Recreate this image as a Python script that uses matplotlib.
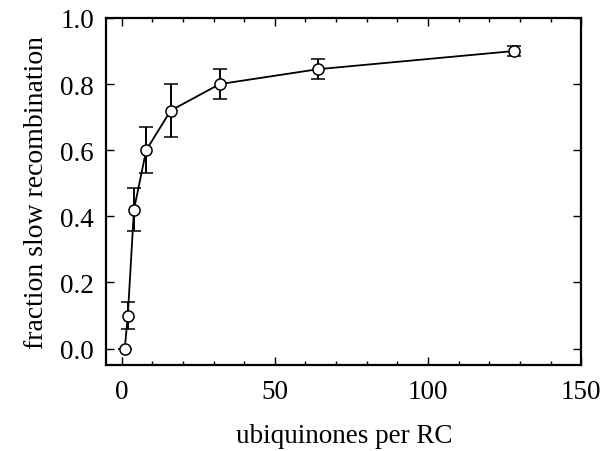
import matplotlib
matplotlib.use("Agg")
import matplotlib.pyplot as plt
from matplotlib.ticker import MultipleLocator

# data
quinones = [1, 2, 4, 8, 16, 32, 64, 128]
fraction = [0.0, 0.10, 0.42, 0.60, 0.72, 0.80, 0.845, 0.90]
err = [0.0, 0.04, 0.065, 0.07, 0.08, 0.045, 0.03, 0.015]

plt.rcParams['font.family'] = ['Liberation Serif', 'DejaVu Serif']

fig = plt.figure(figsize=(6.01, 4.52), dpi=100)
ax = fig.add_axes([0.177, 0.19, 0.790, 0.768])

ax.errorbar(quinones, fraction, yerr=err, color='black', lw=1.3,
            marker='o', markersize=8, markerfacecolor='white',
            markeredgecolor='black', markeredgewidth=1.1,
            capsize=5, capthick=1.4, elinewidth=1.4)

ax.set_xlim(-5, 150)
ax.set_ylim(-0.05, 1.0)
ax.set_xticks([0, 50, 100, 150])
ax.set_yticks([0.0, 0.2, 0.4, 0.6, 0.8, 1.0])
ax.xaxis.set_minor_locator(MultipleLocator(10))
ax.yaxis.set_major_formatter(matplotlib.ticker.FormatStrFormatter('%.1f'))

ax.tick_params(which='both', direction='in', top=True, right=True,
               labelsize=19.5, pad=10)
ax.tick_params(axis='y', pad=9)
ax.tick_params(which='major', length=6, width=1)
ax.tick_params(which='minor', length=3, width=1)
for s in ax.spines.values():
    s.set_linewidth(1.6)

ax.set_xlabel('ubiquinones per RC', fontsize=19.5, labelpad=14)
ax.set_ylabel('fraction slow recombination', fontsize=20, labelpad=8)

fig.savefig('out.png', dpi=100)
